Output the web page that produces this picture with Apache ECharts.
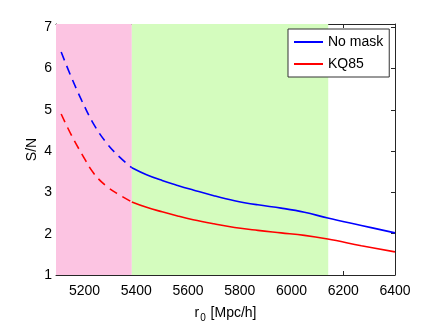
<!DOCTYPE html>
<html>
<head>
<meta charset="utf-8">
<script src="https://cdn.jsdelivr.net/npm/echarts@6/dist/echarts.min.js"></script>
<style>
  html, body { margin: 0; padding: 0; background: #fff; }
  #chart { width: 436px; height: 329px; }
</style>
</head>
<body>
<div id="chart"></div>
<script>
  // r0 values where the curves are dashed (masked range) and solid
  const xDashed = [5110, 5150, 5190, 5235, 5285, 5335, 5383];
  const xSolid = [5383, 5440, 5500, 5560, 5620, 5700, 5780, 5870, 5960, 6050, 6140, 6270, 6400];
  // S/N, no mask
  const noMaskDashed = [6.40, 5.78, 5.22, 4.66, 4.20, 3.86, 3.60];
  const noMaskSolid = [3.60, 3.43, 3.29, 3.17, 3.06, 2.92, 2.80, 2.70, 2.62, 2.52, 2.38, 2.20, 2.02];
  // S/N, KQ85
  const kq85Dashed = [4.90, 4.38, 3.93, 3.47, 3.15, 2.94, 2.77];
  const kq85Solid = [2.77, 2.64, 2.53, 2.43, 2.34, 2.24, 2.15, 2.08, 2.02, 1.96, 1.87, 1.71, 1.56];
  // shaded r0 ranges
  const pinkRange = [5090, 5383];
  const greenRange = [5383, 6142];
  const xTicks = [5200, 5400, 5600, 5800, 6000, 6200, 6400];
  const yTicks = [1, 2, 3, 4, 5, 6, 7];

  const pair = (xs, ys) => xs.map((x, i) => [x, ys[i]]);

  const chart = echarts.init(document.getElementById('chart'));
  const font = 'Liberation Sans, Arial, sans-serif';
  const axisColor = '#262626';

  const xBase = {
    type: 'value', min: 5090, max: 6400,
    axisLine: { show: true, onZero: false, lineStyle: { color: axisColor, width: 1 } },
    axisTick: { show: true, inside: true, length: 4, customValues: xTicks, lineStyle: { color: axisColor } },
    splitLine: { show: false }
  };
  const yBase = {
    type: 'value', min: 1, max: 7.08,
    axisLine: { show: true, onZero: false, lineStyle: { color: axisColor, width: 1 } },
    axisTick: { show: true, inside: true, length: 4, customValues: yTicks, lineStyle: { color: axisColor } },
    splitLine: { show: false }
  };

  const option = {
    animation: false,
    textStyle: { fontFamily: font },
    grid: { left: 56, right: 41, top: 24, bottom: 54 },
    legend: {
      orient: 'vertical',
      left: 288, top: 29,
      padding: [6, 6, 6, 6],
      backgroundColor: '#fff',
      borderColor: '#333', borderWidth: 1,
      itemWidth: 29, itemHeight: 2, itemGap: 8,
      icon: 'rect',
      textStyle: { fontSize: 14, color: '#000', fontFamily: font },
      data: ['No mask', 'KQ85']
    },
    xAxis: [
      Object.assign({}, xBase, {
        position: 'bottom',
        name: '{a|r}{b|0}{a| [Mpc/h]}',
        nameLocation: 'middle', nameGap: 28, nameMoveOverlap: false,
        nameTextStyle: {
          rich: {
            a: { fontSize: 14, color: '#000', fontFamily: font },
            b: { fontSize: 10, color: '#000', fontFamily: font, padding: [10, 1, 0, 1] }
          }
        },
        axisLabel: { customValues: xTicks, formatter: v => String(v), fontSize: 14, color: '#000', margin: 9 }
      }),
      Object.assign({}, xBase, { position: 'top', axisLabel: { show: false } })
    ],
    yAxis: [
      Object.assign({}, yBase, {
        position: 'left',
        name: 'S/N', nameLocation: 'middle', nameGap: 17, nameMoveOverlap: false,
        nameTextStyle: { fontSize: 14, color: '#000' },
        axisLabel: { customValues: yTicks, fontSize: 14, color: '#000', margin: 4 }
      }),
      Object.assign({}, yBase, { position: 'right', axisLabel: { show: false } })
    ],
    series: [
      {
        name: 'No mask', type: 'line', smooth: 0.4, showSymbol: false,
        color: '#0000ff', lineStyle: { width: 1.6, color: '#0000ff' },
        data: pair(xSolid, noMaskSolid), z: 3,
        markArea: {
          silent: true,
          data: [
            [{ xAxis: pinkRange[0], itemStyle: { color: '#fcc4e2' } }, { xAxis: pinkRange[1] }],
            [{ xAxis: greenRange[0], itemStyle: { color: '#d4fcbe' } }, { xAxis: greenRange[1] }]
          ]
        }
      },
      {
        name: 'KQ85', type: 'line', smooth: 0.4, showSymbol: false,
        color: '#ff0000', lineStyle: { width: 1.6, color: '#ff0000' },
        data: pair(xSolid, kq85Solid), z: 3
      },
      {
        name: 'No mask masked', type: 'line', smooth: 0.4, showSymbol: false,
        lineStyle: { width: 1.6, color: '#0000ff', type: [9, 6] },
        data: pair(xDashed, noMaskDashed), z: 3
      },
      {
        name: 'KQ85 masked', type: 'line', smooth: 0.4, showSymbol: false,
        lineStyle: { width: 1.6, color: '#ff0000', type: [9, 6] },
        data: pair(xDashed, kq85Dashed), z: 3
      }
    ]
  };
  chart.setOption(option);
</script>
</body>
</html>
